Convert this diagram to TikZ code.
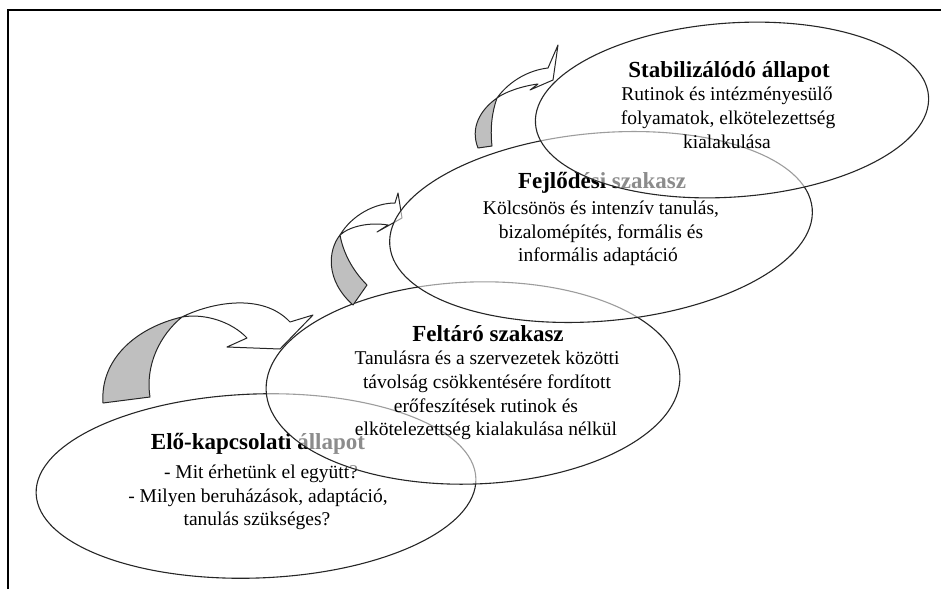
\documentclass[tikz,border=0pt]{standalone}
\usepackage{fontspec}
\setmainfont{Liberation Serif}
\usetikzlibrary{shapes.geometric}
\begin{document}
\begin{tikzpicture}[x=1pt,y=-1pt,
  frame/.style={line width=2pt,black},
  oval/.style={draw=black!85,line width=1.1pt,fill=white,fill opacity=0.55,ellipse,inner sep=0pt},
  ttl/.style={font=\fontsize{23}{26}\selectfont\bfseries,inner sep=0pt,anchor=base},
  txt/.style={font=\fontsize{19.5}{23.5}\selectfont,inner sep=0pt,anchor=base},
  arr/.style={draw=black!85,line width=1pt,fill=white,line join=round},
  arrg/.style={draw=black!85,line width=1pt,fill=black!25,line join=round}]
\useasboundingbox (0,0) rectangle (941,589);
\draw[frame] (8,589) -- (8,10) -- (941,10);

% E4
\node[oval,fill opacity=0,rotate=2,minimum width=440pt,minimum height=184pt] (e4) at (256,486) {};
\node[ttl] (t4a) at (258,449) {Elő-kapcsolati állapot};
\node[txt] (t4b) at (261,478) {- Mit érhetünk el együtt?};
\node[txt] (t4c) at (258,502) {- Milyen beruházások, adaptáció,};
\node[txt] (t4d) at (257,525) {tanulás szükséges?};

% arrow 1
\path[arrg] (103,403) .. controls (100,360) and (135,328) .. (182,317)
  .. controls (160,335) and (145,365) .. (150,397) -- cycle;
\path[arr] (182,317) .. controls (210,303) and (262,292) .. (290,322)
  -- (313,315) -- (280,349) -- (227,347) -- (247,338)
  .. controls (232,322) and (205,313) .. (182,317) -- cycle;

% E3
\node[oval,rotate=2,minimum width=414pt,minimum height=202pt] (e3) at (473,383) {};
\node[ttl] (t3a) at (488,341) {Feltáró szakasz};
\node[txt] (t3b) at (487,364) {Tanulásra és a szervezetek közötti};
\node[txt] (t3c) at (487,388) {távolság csökkentésére fordított};
\node[txt] (t3d) at (486,412) {erőfeszítések rutinok és};
\node[txt] (t3e) at (486,435) {elkötelezettség kialakulása nélkül};

% arrow 2
\path[arrg] (340,235) .. controls (328,250) and (325,280) .. (353,305)
  -- (367,285) .. controls (352,270) and (343,252) .. (340,235) -- cycle;
\path[arr] (340,235) .. controls (352,215) and (375,203) .. (395,203)
  -- (398,193) -- (402,218) -- (377,232) -- (388,225)
  .. controls (370,222) and (350,226) .. (340,235) -- cycle;

% E2
\node[oval,rotate=5,minimum width=424pt,minimum height=188pt] (e2) at (601,227) {};
\node[ttl] (t2a) at (602,188) {Fejlődési szakasz};
\node[txt] (t2b) at (601,214) {Kölcsönös és intenzív tanulás,};
\node[txt] (t2c) at (601,238) {bizalomépítés, formális és};
\node[txt] (t2d) at (598,261) {informális adaptáció};

% arrow 3
\path[arrg] (497,98) .. controls (480,110) and (470,128) .. (478,148)
  -- (492,146) .. controls (490,128) and (492,112) .. (497,98) -- cycle;
\path[arr] (497,98) .. controls (510,80) and (530,70) .. (548,68)
  -- (558,45) -- (553,80) -- (530,90) -- (538,84)
  .. controls (522,86) and (505,92) .. (497,98) -- cycle;

% E1
\node[oval,rotate=4,minimum width=394pt,minimum height=174pt] (e1) at (732,110) {};
\node[ttl] (t1a) at (729,77) {Stabilizálódó állapot};
\node[txt] (t1b) at (727,100) {Rutinok és intézményesülő};
\node[txt] (t1c) at (728,124) {folyamatok, elkötelezettség};
\node[txt] (t1d) at (727,148) {kialakulása};
\end{tikzpicture}
\end{document}
